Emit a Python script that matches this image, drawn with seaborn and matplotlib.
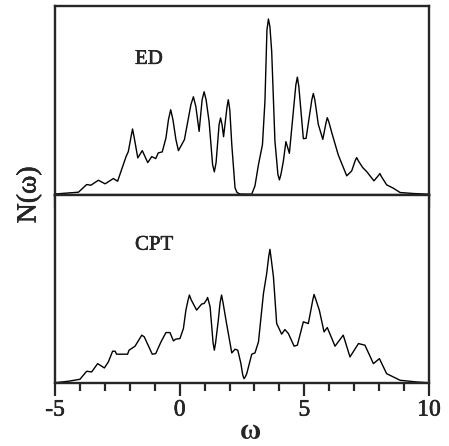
import numpy as np
import pandas as pd
import matplotlib
matplotlib.use("Agg")
import matplotlib.pyplot as plt
import matplotlib.patheffects as pe
import seaborn as sns
from matplotlib.ticker import MultipleLocator

# ED spectral function (arbitrary units)
ed_w = [-5.0, -4.06, -3.73, -3.56, -3.26, -2.99, -2.66, -2.49, -2.15, -2.06,
        -1.95, -1.89, -1.83, -1.68, -1.50, -1.28, -1.12, -0.96, -0.86, -0.70,
        -0.55, -0.45, -0.36, -0.27, -0.15, -0.05, 0.19, 0.45, 0.55, 0.65,
        0.78, 0.90, 0.98, 1.06, 1.18, 1.32, 1.39, 1.46, 1.58, 1.64,
        1.70, 1.76, 1.90, 1.95, 2.01, 2.09, 2.22, 2.30, 2.42, 2.89,
        3.02, 3.16, 3.32, 3.42, 3.50, 3.56, 3.62, 3.69, 3.82, 3.94,
        4.00, 4.06, 4.16, 4.26, 4.40, 4.56, 4.66, 4.72, 4.78, 4.96,
        5.07, 5.30, 5.36, 5.42, 5.56, 5.74, 5.87, 5.92, 5.98, 6.10,
        6.36, 6.70, 6.90, 7.04, 7.10, 7.16, 7.34, 7.50, 7.79, 7.97,
        8.03, 8.09, 8.30, 8.57, 8.84, 9.37, 9.97]
ed_n = [0.5, 2.3, 10.0, 9.3, 14.3, 10.7, 16.0, 13.3, 38.0, 43.0,
        58.0, 65.7, 58.0, 36.7, 44.0, 32.0, 38.0, 36.0, 41.7, 42.7,
        56.7, 75.0, 85.0, 75.0, 55.0, 44.0, 55.0, 90.0, 98.0, 88.0,
        63.3, 95.0, 103.0, 95.0, 73.0, 30.0, 22.7, 32.0, 70.0, 76.7,
        70.0, 58.0, 88.0, 95.0, 85.0, 50.0, 6.7, 2.0, 0.5, 0.3,
        8.7, 30.0, 50.0, 93.7, 165.0, 176.0, 168.0, 143.7, 53.7, 20.0,
        14.7, 20.0, 33.7, 53.0, 41.3, 83.7, 110.0, 117.7, 108.0, 56.0,
        56.3, 95.0, 101.3, 95.0, 70.3, 55.3, 72.0, 77.0, 73.0, 62.0,
        39.7, 18.7, 23.7, 34.0, 37.0, 34.0, 27.0, 23.0, 13.7, 19.0,
        21.0, 18.0, 9.7, 6.3, 2.0, 1.0, 0.3]

# CPT spectral function (arbitrary units)
cpt_w = [-5.0, -4.47, -4.0, -3.73, -3.53, -3.29, -3.02, -2.86, -2.69, -2.59,
         -2.53, -2.09, -2.03, -1.79, -1.52, -1.42, -1.10, -0.96, -0.75, -0.55,
         -0.39, -0.25, -0.16, 0.01, 0.15, 0.25, 0.33, 0.39, 0.46, 0.68,
         0.88, 0.98, 1.08, 1.12, 1.22, 1.34, 1.39, 1.44, 1.55, 1.62,
         1.68, 1.74, 1.88, 2.09, 2.22, 2.33, 2.45, 2.53, 2.58, 2.63,
         2.69, 2.89, 3.02, 3.16, 3.36, 3.49, 3.57, 3.62, 3.67, 3.76,
         3.89, 4.09, 4.22, 4.36, 4.59, 4.72, 4.96, 5.16, 5.34, 5.39,
         5.45, 5.60, 5.79, 5.92, 6.23, 6.56, 6.83, 7.17, 7.43, 7.77,
         8.01, 8.30, 8.57, 8.84, 9.51, 9.97]
cpt_n = [0.3, 1.7, 3.7, 11.7, 11.0, 19.3, 15.0, 21.0, 31.7, 31.7,
         28.7, 28.7, 32.7, 36.7, 47.7, 46.0, 28.7, 29.3, 41.0, 50.3,
         50.3, 42.0, 43.7, 44.3, 54.3, 72.7, 82.0, 87.7, 83.0, 72.7,
         78.7, 79.3, 83.0, 85.3, 76.0, 40.0, 32.7, 40.0, 62.7, 80.0,
         87.7, 80.0, 59.3, 30.0, 33.7, 32.7, 20.0, 8.0, 4.3, 6.0,
         9.3, 28.7, 30.0, 41.0, 89.3, 109.3, 126.0, 133.3, 124.0, 106.0,
         59.3, 48.7, 53.3, 49.3, 36.7, 37.7, 61.0, 59.3, 83.0, 88.3,
         84.0, 72.7, 51.0, 55.3, 36.7, 47.7, 26.0, 39.3, 37.7, 19.3,
         24.3, 9.3, 6.0, 2.7, 1.0, 0.3]

panel_labels = ["ED", "CPT"]
x_ticks = [-5, 0, 5, 10]

sns.set_style("ticks")
plt.rcParams["font.family"] = ["Liberation Serif", "DejaVu Serif"]
plt.rcParams["axes.unicode_minus"] = False

heavy = [pe.withStroke(linewidth=0.35, foreground="black")]

fig, (ax1, ax2) = plt.subplots(2, 1, figsize=(4.49, 4.46), dpi=100, sharex=True)
fig.subplots_adjust(left=0.1225, right=0.9555, top=0.9865, bottom=0.1413, hspace=0)

ed = pd.DataFrame({"w": ed_w, "n": ed_n})
cpt = pd.DataFrame({"w": cpt_w, "n": cpt_n})

sns.lineplot(data=ed, x="w", y="n", ax=ax1, color="black", lw=1.0)
sns.lineplot(data=cpt, x="w", y="n", ax=ax2, color="black", lw=1.0)

ax1.set_ylim(0, 189)
ax2.set_ylim(0, 188)

for ax, lbl, ypos in zip([ax1, ax2], panel_labels, [0.693, 0.707]):
    ax.set_xlim(-5, 10)
    ax.set_yticks([])
    ax.set_ylabel("")
    ax.set_xlabel("")
    ax.xaxis.set_major_locator(MultipleLocator(5))
    ax.xaxis.set_minor_locator(MultipleLocator(1))
    ax.tick_params(axis="x", which="major", direction="out", length=9, width=1.6,
                   labelsize=17, pad=3)
    ax.tick_params(axis="x", which="minor", direction="out", length=6, width=1.6)
    for s in ax.spines.values():
        s.set_visible(True)
        s.set_linewidth(1.7)
    ax.text(0.214, ypos, lbl, transform=ax.transAxes, fontsize=15,
            ha="left", va="baseline", path_effects=heavy)

ax1.tick_params(axis="x", which="both", labelbottom=False)
ax2.set_xticks(x_ticks)
ax2.set_xticklabels([str(t) for t in x_ticks])
for t in ax2.get_xticklabels():
    t.set_path_effects(heavy)

fig.text(0.559, 0.033, "ω", fontsize=21, fontweight="bold", ha="center", va="center")
fig.text(0.0646, 0.563, "N(ω)", rotation=90, fontsize=20, ha="center", va="center",
         path_effects=heavy)

fig.savefig("out.png", dpi=100)
